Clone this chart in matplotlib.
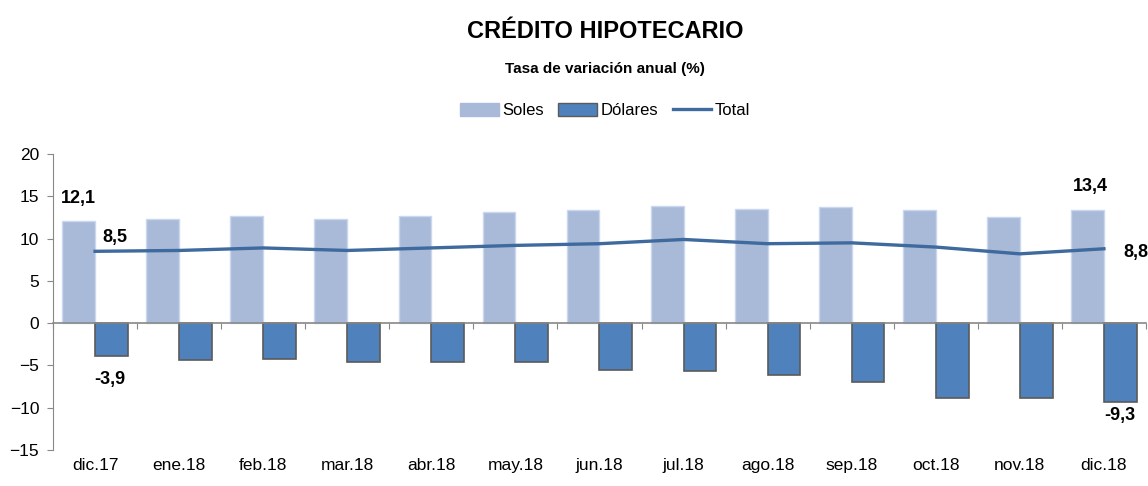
import matplotlib.pyplot as plt
import numpy as np
from matplotlib.patches import Patch
from matplotlib.lines import Line2D

meses = ['dic.17', 'ene.18', 'feb.18', 'mar.18', 'abr.18', 'may.18', 'jun.18',
         'jul.18', 'ago.18', 'sep.18', 'oct.18', 'nov.18', 'dic.18']
soles = [12.1, 12.3, 12.7, 12.3, 12.7, 13.1, 13.4, 13.9, 13.5, 13.7, 13.4, 12.5, 13.4]
dolares = [-3.9, -4.4, -4.2, -4.6, -4.6, -4.6, -5.5, -5.7, -6.1, -6.9, -8.8, -8.8, -9.3]
total = [8.5, 8.6, 8.9, 8.6, 8.9, 9.2, 9.4, 9.9, 9.4, 9.5, 9.0, 8.2, 8.8]

fuente = ['Liberation Sans Narrow', 'Liberation Sans', 'DejaVu Sans']
plt.rcParams['font.family'] = fuente

c_soles = '#A9B9D8'
c_dol = '#4F81BD'
c_tot = '#3E6A9E'

fig = plt.figure(figsize=(11.48, 4.86), dpi=100)
ax = fig.add_axes([0.0462, 0.074, 0.952, 0.609])

x = np.arange(len(meses))
w = 0.39
ax.bar(x - w/2, soles, w, color=c_soles, edgecolor='#C9D8F0', linewidth=1, zorder=2)
ax.bar(x + w/2, dolares, w, color=c_dol, edgecolor='#5A5A5A', linewidth=1.2, zorder=2)
ax.plot(x, total, color=c_tot, linewidth=2.4, zorder=3)

ax.set_xlim(-0.5, 12.5)
ax.set_ylim(-15, 20)
ax.set_yticks(np.arange(-15, 21, 5))
ax.tick_params(axis='y', labelsize=12.5, length=4, color='#888888', pad=6)

for s in ['top', 'right']:
    ax.spines[s].set_visible(False)
ax.spines['left'].set_color('#888888')
ax.spines['bottom'].set_position(('data', 0))
ax.spines['bottom'].set_color('#888888')
ax.spines['bottom'].set_linewidth(1.2)
ax.set_xticks(np.arange(-0.5, 13, 1))
ax.set_xticklabels([])
ax.tick_params(axis='x', length=4, color='#888888')

sec = ax.secondary_xaxis('bottom')
sec.set_xticks(x)
sec.set_xticklabels(meses)
sec.tick_params(length=0, labelsize=12.5, pad=6)
sec.spines['bottom'].set_visible(False)

lab = dict(fontsize=13, fontweight='bold', ha='center', va='center',
           textcoords='offset points')
ax.annotate('12,1', (0 - w/2, soles[0]), xytext=(0, 16), **lab)
ax.annotate('8,5', (0, total[0]), xytext=(14, 10), **lab)
ax.annotate('-3,9', (0 + w/2, dolares[0]), xytext=(-1, -17), **lab)
ax.annotate('13,4', (12 - w/2, soles[12]), xytext=(2, 17), **lab)
ax.annotate('8,8', (12, total[12]), xytext=(23, -3), **lab)
ax.annotate('-9,3', (12 + w/2, dolares[12]), xytext=(0, -10), **lab)

fig.text(0.527, 0.935, 'CRÉDITO HIPOTECARIO', ha='center', va='center',
         fontsize=17, fontweight='bold')
fig.text(0.527, 0.858, 'Tasa de variación anual (%)', ha='center', va='center',
         fontsize=11, fontweight='bold')

handles = [Patch(facecolor=c_soles, edgecolor=c_soles),
           Patch(facecolor=c_dol, edgecolor='#5A5A5A'),
           Line2D([], [], color=c_tot, linewidth=2.4)]
fig.legend(handles, ['Soles', 'Dólares', 'Total'], loc='center',
           bbox_to_anchor=(0.527, 0.772), ncol=3, frameon=False, fontsize=12,
           handlelength=2.3, handleheight=0.8, columnspacing=0.9, handletextpad=0.2)

fig.savefig('out.png', dpi=100)
